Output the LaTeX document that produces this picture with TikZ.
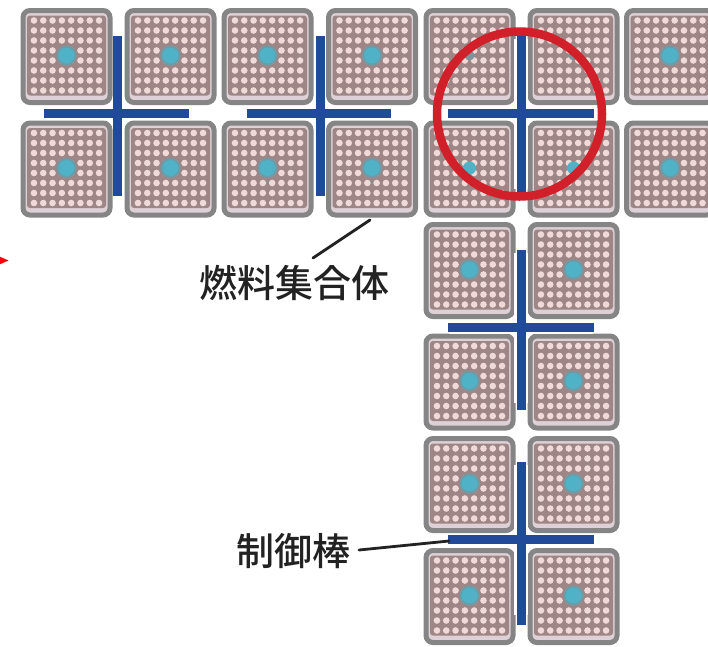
\documentclass[tikz,border=0pt]{standalone}
\usepackage{fontspec}
\newfontfamily\jpfont{Noto Sans CJK JP Medium}
\definecolor{asmgray}{HTML}{858585}
\definecolor{asmlight}{HTML}{DDD0D6}
\definecolor{asmbrown}{HTML}{9E8686}
\definecolor{pelletpink}{HTML}{F0DAD8}
\definecolor{rodblue}{HTML}{214A9B}
\definecolor{tealcore}{HTML}{4FB2C6}
\definecolor{tealhalo}{HTML}{6F9AA6}
\definecolor{ringred}{HTML}{D2202A}
\definecolor{leaderk}{HTML}{222222}
\tikzset{
  x=1pt,y=-1pt,
  asmbox/.style={draw=asmgray,line width=5pt,fill=asmlight,rounded corners=7pt,minimum width=87pt,minimum height=92pt,inner sep=0pt},
  leaderline/.style={draw=leaderk,line width=2.8pt,line cap=round},
  jplabel/.style={font=\jpfont\fontsize{38}{38}\selectfont,text=leaderk,inner sep=0pt},
}
% assembly: centre x, centre y, name, core colour, core radius
\newcommand{\assembly}[5]{%
  \node[asmbox] (#3) at (#1,#2) {};
  \fill[asmbrown,rounded corners=3pt] (#1-39.5,#2-41) rectangle (#1+39.5,#2+39);
  \foreach \i in {-3.5,...,3.5}{\foreach \j in {-3.5,...,3.5}{
    \fill[pelletpink] (#1+\i*9.3,#2-1+\j*10) circle[radius=3.3];}}
  \ifdim#5pt>7pt \fill[tealhalo] (#1,#2-1) circle[radius=#5+2.2];\fi
  \fill[#4] (#1,#2-1) circle[radius=#5];
}
\newcommand{\rodcross}[3]{%
  \fill[white] (#1-7,#2-75) rectangle (#1+7,#2+75);
  \fill[white] (#1-72,#2-6) rectangle (#1+72,#2+6);
  \fill[rodblue] (#1-4.5,#2-78) rectangle (#1+4.5,#2+#3);
  \fill[rodblue] (#1-73,#2-4.5) rectangle (#1+73,#2+4.5);
}
\begin{document}
\begin{tikzpicture}
\useasboundingbox (0,0) rectangle (708,646);
\clip (0,0) rectangle (708,646);
\fill[white] (0,0) rectangle (708,646);
% top two rows
\assembly{66.5}{56.5}{a11}{tealcore}{8}
\assembly{170.5}{56.5}{a12}{tealcore}{8}
\assembly{267.5}{56.5}{a13}{tealcore}{8}
\assembly{372}{56.5}{a14}{tealcore}{8}
\assembly{469.5}{56.5}{a15}{tealhalo!70!asmbrown}{5}
\assembly{573.5}{56.5}{a16}{tealhalo!70!asmbrown}{5}
\assembly{670}{56.5}{a17}{tealcore}{8}
\assembly{66.5}{169}{a21}{tealcore}{8}
\assembly{170.5}{169}{a22}{tealcore}{8}
\assembly{267.5}{169}{a23}{tealcore}{8}
\assembly{372}{169}{a24}{tealcore}{8}
\assembly{469.5}{169}{a25}{tealcore}{6.5}
\assembly{573.5}{169}{a26}{tealcore}{6.5}
\assembly{670}{169}{a27}{tealcore}{8}
% lower columns
\assembly{469.5}{270.5}{a35}{tealcore}{8}
\assembly{573.5}{270.5}{a36}{tealcore}{8}
\assembly{469.5}{382}{a45}{tealcore}{8}
\assembly{573.5}{382}{a46}{tealcore}{8}
\assembly{469.5}{484.5}{a55}{tealcore}{8}
\assembly{573.5}{484.5}{a56}{tealcore}{8}
\assembly{469.5}{596.5}{a65}{tealcore}{8}
\assembly{573.5}{596.5}{a66}{tealcore}{8}
% control rods
\fill[rodblue] (113,36) rectangle (122,196);
\fill[rodblue] (44,109) rectangle (189,118);
\fill[rodblue] (316,36) rectangle (325,196);
\fill[rodblue] (247,109) rectangle (391,118);
\rodcross{521}{113.5}{78}
\rodcross{521}{327.5}{82}
\rodcross{521}{539.5}{85}
% ring
\node[draw=ringred,line width=8.5pt,circle,minimum size=165pt,inner sep=0pt] (ring) at (519.5,114) {};
% labels
\node[jplabel,anchor=center] (fuel) at (294,283) {燃料集合体};
\node[jplabel,anchor=center] (rod) at (293.5,551) {制御棒};
\coordinate (fuelend) at (370,220);
\coordinate (fuelstart) at (313,258);
\coordinate (rodstart) at (359,550);
\coordinate (rodend) at (449,541);
\draw[leaderline] (fuelstart) -- (fuelend);
\draw[leaderline] (rodstart) -- (rodend);
% red pointer at the left edge
\coordinate (tip) at (8.5,260.5);
\fill[red] (tip) -- (-4,255) -- (-4,266) -- cycle;
\end{tikzpicture}
\end{document}
